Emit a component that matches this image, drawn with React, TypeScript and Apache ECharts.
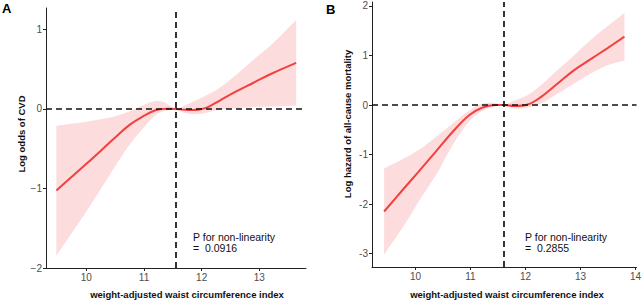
import React, { useEffect, useRef } from "react";
import * as echarts from "echarts";

// Panel A: Log odds of CVD
const curveAX = [9.48, 10.0, 10.5, 10.75, 11.0, 11.2, 11.4, 11.56, 11.7, 11.85, 12.0, 12.1, 12.3, 12.6, 12.9, 13.2, 13.64];
const curveAY = [-1.025, -0.69, -0.36, -0.2, -0.085, -0.015, 0.004, 0.0, -0.01, -0.013, 0.0, 0.02, 0.1, 0.22, 0.33, 0.44, 0.58];
const bandAX = [9.48, 10.0, 10.5, 10.75, 11.0, 11.2, 11.35, 11.56, 11.7, 11.85, 12.0, 12.3, 12.6, 12.9, 13.2, 13.64];
const bandAHi = [-0.21, -0.16, -0.09, -0.03, 0.05, 0.1, 0.085, 0.0, 0.04, 0.09, 0.14, 0.26, 0.43, 0.62, 0.8, 1.12];
const bandALo = [-1.845, -1.29, -0.72, -0.45, -0.23, -0.08, -0.03, 0.0, -0.05, -0.065, -0.06, -0.01, 0.01, 0.025, 0.03, 0.045];
const refA = 11.555;
const yTicksA = [-2, -1, 0, 1];
const xTicksA = [10, 11, 12, 13];

// Panel B: Log hazard of all-cause mortality
const curveBX = [9.43, 9.77, 10.07, 10.37, 10.67, 10.97, 11.21, 11.45, 11.6, 11.8, 12.04, 12.28, 12.58, 12.88, 13.18, 13.48, 13.8];
const curveBY = [-2.15, -1.71, -1.33, -0.94, -0.55, -0.21, -0.054, 0.0, 0.0, -0.02, 0.01, 0.16, 0.43, 0.7, 0.92, 1.14, 1.38];
const bandBX = [9.43, 9.77, 10.07, 10.37, 10.67, 10.97, 11.21, 11.45, 11.6, 11.8, 12.04, 12.28, 12.58, 12.88, 13.18, 13.48, 13.8];
const bandBHi = [-1.28, -1.09, -0.9, -0.65, -0.38, -0.12, 0.03, 0.04, 0.0, 0.09, 0.2, 0.4, 0.7, 1.0, 1.31, 1.58, 1.86];
const bandBLo = [-3.02, -2.47, -1.93, -1.42, -0.82, -0.34, -0.12, -0.03, 0.0, -0.07, -0.05, 0.03, 0.23, 0.43, 0.63, 0.8, 0.9];
const refB = 11.605;
const yTicksB = [-3, -2, -1, 0, 1, 2];
const xTicksB = [10, 11, 12, 13, 14];

const RED = "#F3403F";
const BAND = "#FCDCDC";
const LABEL = "#4D4D4D";
const FONT = "Liberation Sans, Arial, sans-serif";

function zip(x: number[], y: number[]) {
  return x.map((v, i) => [v, y[i]]);
}

function panelSeries(idx: number, cx: number[], cy: number[], bx: number[], lo: number[], hi: number[], ref: number) {
  return [
    {
      type: "custom",
      xAxisIndex: idx,
      yAxisIndex: idx,
      data: bx.map((v, i) => [v, lo[i], hi[i]]),
      encode: { x: 0, y: [1, 2] },
      silent: true,
      z: 1,
      renderItem: (params: any, api: any) => {
        if (params.dataIndex !== 0) return null;
        const top = bx.map((v, i) => api.coord([v, hi[i]]));
        const bottom = bx.map((v, i) => api.coord([v, lo[i]])).reverse();
        // repeat the end points so the vertical ends of the band stay straight
        const pts = [top[0], ...top, top[top.length - 1], bottom[0], ...bottom, bottom[bottom.length - 1]];
        return {
          type: "polygon",
          shape: { points: pts, smooth: 0.35 },
          style: { fill: BAND, stroke: null },
        };
      },
    },
    {
      type: "line",
      xAxisIndex: idx,
      yAxisIndex: idx,
      data: zip(cx, cy),
      smooth: 0.4,
      symbol: "none",
      lineStyle: { color: RED, width: 2 },
      z: 3,
      markLine: {
        silent: true,
        symbol: "none",
        label: { show: false },
        lineStyle: { color: "#111", width: 1.7, type: [6, 4] },
        data: [{ xAxis: ref }, { yAxis: 0 }],
        z: 4,
      },
    },
  ];
}

function xAxis(idx: number, min: number, max: number, ticks: number[]) {
  return {
    type: "value",
    gridIndex: idx,
    min,
    max,
    splitLine: { show: false },
    axisLine: { show: true, onZero: false, lineStyle: { color: "#222", width: 1 } },
    axisTick: { show: true, length: 3, customValues: ticks, lineStyle: { color: "#222" } },
    axisLabel: { customValues: ticks, color: LABEL, fontSize: 10, fontFamily: FONT, margin: 4 },
  };
}

function yAxis(idx: number, min: number, max: number, ticks: number[], minus: string) {
  return {
    type: "value",
    gridIndex: idx,
    min,
    max,
    splitLine: { show: false },
    axisLine: { show: true, onZero: false, lineStyle: { color: "#222", width: 1 } },
    axisTick: { show: true, length: 3, customValues: ticks, lineStyle: { color: "#222" } },
    axisLabel: {
      customValues: ticks,
      color: LABEL,
      fontSize: 10,
      fontFamily: FONT,
      margin: 4,
      formatter: (v: number) => (v < 0 ? minus + Math.abs(v) : String(v)),
    },
  };
}

const textStyle = (text: string, size: number, weight: string, color: string) => ({
  text,
  fontSize: size,
  fontWeight: weight,
  fill: color,
  fontFamily: FONT,
});

export default function App() {
  const ref = useRef<HTMLDivElement>(null);
  useEffect(() => {
    const chart = echarts.init(ref.current!, null, { renderer: "svg" });
    chart.setOption({
      animation: false,
      backgroundColor: "#fff",
      grid: [
        { left: 46, top: 8, width: 260, height: 260 },
        { left: 372, top: 2, width: 268, height: 265 },
      ],
      xAxis: [xAxis(0, 9.3, 13.81, xTicksA), xAxis(1, 9.21, 14.02, xTicksB)],
      yAxis: [yAxis(0, -2, 1.27, yTicksA, "\u2212"), yAxis(1, -3.27, 2.08, yTicksB, "-")],
      series: [
        ...panelSeries(0, curveAX, curveAY, bandAX, bandALo, bandAHi, refA),
        ...panelSeries(1, curveBX, curveBY, bandBX, bandBLo, bandBHi, refB),
      ],
      graphic: [
        { type: "text", left: 2, top: 2, style: textStyle("A", 13, "bold", "#000") },
        { type: "text", left: 326, top: 3, style: textStyle("B", 13, "bold", "#000") },
        {
          type: "text",
          x: 21,
          y: 134,
          rotation: Math.PI / 2,
          style: { ...textStyle("Log odds of CVD", 9.5, "bold", "#111"), align: "center", verticalAlign: "middle" },
        },
        {
          type: "text",
          x: 347,
          y: 124,
          rotation: Math.PI / 2,
          style: { ...textStyle("Log hazard of all-cause mortality", 9.5, "bold", "#111"), align: "center", verticalAlign: "middle" },
        },
        {
          type: "text",
          x: 187,
          y: 294,
          style: { ...textStyle("weight-adjusted waist circumference index", 9.5, "bold", "#111"), align: "center", verticalAlign: "middle" },
        },
        {
          type: "text",
          x: 507,
          y: 294,
          style: { ...textStyle("weight-adjusted waist circumference index", 9.5, "bold", "#111"), align: "center", verticalAlign: "middle" },
        },
        {
          type: "text",
          x: 193,
          y: 237,
          style: { ...textStyle("P for non-linearity", 10.5, "normal", "#111"), verticalAlign: "middle" },
        },
        {
          type: "text",
          x: 193,
          y: 248,
          style: { ...textStyle("=  0.0916", 10.5, "normal", "#111"), verticalAlign: "middle" },
        },
        {
          type: "text",
          x: 525,
          y: 237,
          style: { ...textStyle("P for non-linearity", 10.5, "normal", "#111"), verticalAlign: "middle" },
        },
        {
          type: "text",
          x: 525,
          y: 248,
          style: { ...textStyle("=  0.2855", 10.5, "normal", "#111"), verticalAlign: "middle" },
        },
      ],
    });
    return () => chart.dispose();
  }, []);
  return <div ref={ref} style={{ position: "fixed", left: 0, top: 0, width: 644, height: 300 }} />;
}
